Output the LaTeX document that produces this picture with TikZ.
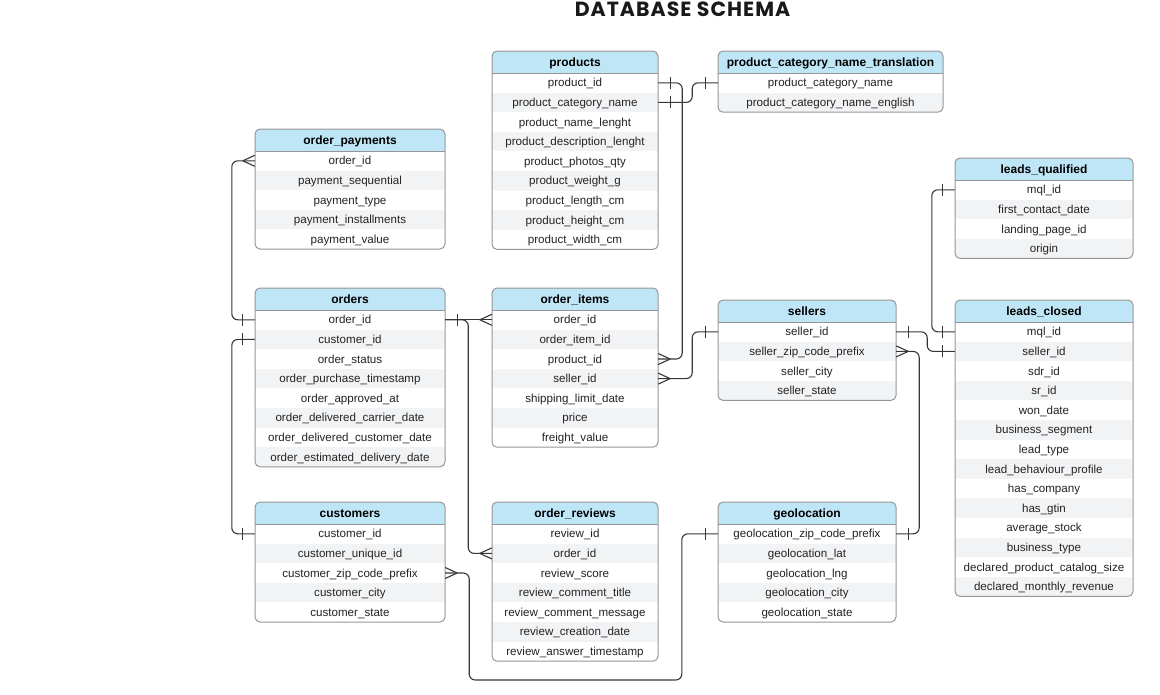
\documentclass[tikz,border=0pt]{standalone}
\usepackage{fontspec}
\setmainfont{Liberation Sans}
\newfontfamily\ttlfont{Poppins}[LetterSpace=5]
\usetikzlibrary{decorations.markings,calc}
\definecolor{hdblue}{RGB}{191,230,247}
\definecolor{rowgray}{RGB}{242,243,245}
\definecolor{edgegray}{RGB}{150,150,150}
\definecolor{linkgray}{RGB}{55,55,55}
\definecolor{txtgray}{RGB}{35,35,35}

\tikzset{
  cell/.style={inner sep=0pt, text=txtgray, text height=8.3pt, text depth=0pt, font=\fontsize{11.6}{13}\selectfont},
  hcell/.style={inner sep=0pt, text=black, text height=8.6pt, text depth=0pt, font=\fontsize{12}{14}\selectfont\bfseries},
  ttl/.style={anchor=base, text=black!90, font=\fontsize{20.5}{24}\ttlfont\bfseries},
  link/.style={draw=linkgray, line width=1.1pt, rounded corners=6pt},
  one start/.style={postaction={decorate, decoration={markings,
    mark=at position 12pt with {\draw[linkgray, line width=1.1pt] (0pt,-6pt) -- (0pt,6pt);}}}},
  one end/.style={postaction={decorate, decoration={markings,
    mark=at position -12pt with {\draw[linkgray, line width=1.1pt] (0pt,-6pt) -- (0pt,6pt);}}}},
  many start/.style={postaction={decorate, decoration={markings,
    mark=at position 0pt with {\draw[linkgray, line width=1.1pt] (12pt,0pt) -- (0pt,5.5pt) (12pt,0pt) -- (0pt,-5.5pt);}}}},
  many end/.style={postaction={decorate, decoration={markings,
    mark=at position 1 with {\draw[linkgray, line width=1.1pt] (-12pt,0pt) -- (0pt,5.5pt) (-12pt,0pt) -- (0pt,-5.5pt);}}}},
}

% table: name, left, top, width, title, rows
\newcommand{\dbtable}[6]{%
  \foreach \r [count=\n] in {#6} {\xdef\nrows{\n}}
  \pgfmathsetmacro\tbot{#3+22+19.6*\nrows}
  \begin{scope}
    \clip[rounded corners=5pt] (#2,#3) rectangle (#2+#4,\tbot);
    \fill[hdblue] (#2,#3) rectangle (#2+#4,#3+22);
    \foreach \r [count=\n] in {#6} {
      \ifodd\n\def\rc{white}\else\def\rc{rowgray}\fi
      \fill[\rc] (#2,#3+2.4+19.6*\n) rectangle (#2+#4,#3+22+19.6*\n);
    }
  \end{scope}
  \draw[edgegray, line width=0.8pt] (#2,#3+22) -- (#2+#4,#3+22);
  \draw[edgegray, line width=1pt, rounded corners=5pt] (#2,#3) rectangle (#2+#4,\tbot);
  \node[hcell] (#1) at (#2+#4/2,#3+11) {#5};
  \foreach \r [count=\n] in {#6} {
    \node[cell, minimum width=#4pt] (#1-\n) at (#2+#4/2,#3+12.2+19.6*\n) {\r};
  }
}

\begin{document}
\begin{tikzpicture}[x=1pt, y=-1pt]
\useasboundingbox (0,0) rectangle (1160,694);

\node[ttl] (title) at (682.5,16.7) {DATABASE SCHEMA};

\dbtable{prod}{492}{51}{166}{products}{product\_id, product\_category\_name, product\_name\_lenght, product\_description\_lenght, product\_photos\_qty, product\_weight\_g, product\_length\_cm, product\_height\_cm, product\_width\_cm}
\dbtable{trans}{718}{51}{225}{product\_category\_name\_translation}{product\_category\_name, product\_category\_name\_english}
\dbtable{pay}{255}{129}{190}{order\_payments}{order\_id, payment\_sequential, payment\_type, payment\_installments, payment\_value}
\dbtable{ord}{255}{288}{190}{orders}{order\_id, customer\_id, order\_status, order\_purchase\_timestamp, order\_approved\_at, order\_delivered\_carrier\_date, order\_delivered\_customer\_date, order\_estimated\_delivery\_date}
\dbtable{items}{492}{288}{166}{order\_items}{order\_id, order\_item\_id, product\_id, seller\_id, shipping\_limit\_date, price, freight\_value}
\dbtable{sel}{718}{300}{178}{sellers}{seller\_id, seller\_zip\_code\_prefix, seller\_city, seller\_state}
\dbtable{lq}{955}{158}{178}{leads\_qualified}{mql\_id, first\_contact\_date, landing\_page\_id, origin}
\dbtable{lc}{955}{300}{178}{leads\_closed}{mql\_id, seller\_id, sdr\_id, sr\_id, won\_date, business\_segment, lead\_type, lead\_behaviour\_profile, has\_company, has\_gtin, average\_stock, business\_type, declared\_product\_catalog\_size, declared\_monthly\_revenue}
\dbtable{cust}{255}{502}{190}{customers}{customer\_id, customer\_unique\_id, customer\_zip\_code\_prefix, customer\_city, customer\_state}
\dbtable{rev}{492}{502}{166}{order\_reviews}{review\_id, order\_id, review\_score, review\_comment\_title, review\_comment\_message, review\_creation\_date, review\_answer\_timestamp}
\dbtable{geo}{718}{502}{178}{geolocation}{geolocation\_zip\_code\_prefix, geolocation\_lat, geolocation\_lng, geolocation\_city, geolocation\_state}

% relations
\draw[link, many start, one end] (pay-1.west) -- ++(-23,0) |- (ord-1.west);
\draw[link, one start, one end] (ord-2.west) -- ++(-23,0) |- (cust-1.west);
\draw[link, one start, many end] (ord-1.east) -- (items-1.west);
\draw[link, many end] (ord-1.east) -- ++(23,0) |- (rev-2.west);
\draw[link, one start, many end] (prod-1.east) -- ++(24,0) |- (items-3.east);
\draw[link, one start, one end] (prod-2.east) -- ++(34,0) |- (trans-1.west);
\draw[link, many start, one end] (items-4.east) -- ++(34,0) |- (sel-1.west);
\draw[link, one start, one end] (sel-1.east) -- ++(31,0) |- (lc-2.west);
\draw[link, one start, one end] (lq-1.west) -- ++(-23,0) |- (lc-1.west);
\draw[link, many start, one end] (sel-2.east) -- ++(23,0) |- (geo-1.east);
\draw[link, many start, one end] (cust-3.east) -- ++(24,0) -- ++(0,107) -| ([xshift=-36pt]geo-1.west) -- (geo-1.west);
\end{tikzpicture}
\end{document}
